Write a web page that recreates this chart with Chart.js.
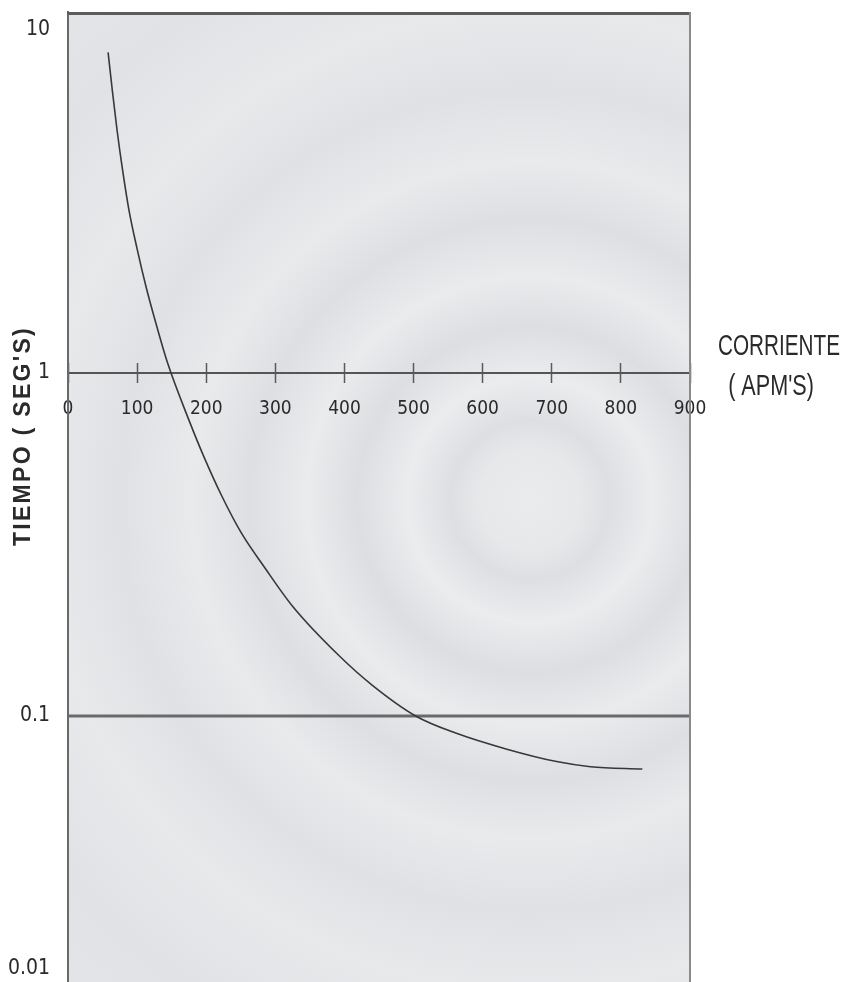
<!DOCTYPE html>
<html lang="es">
<head>
<meta charset="UTF-8">
<title>Tiempo vs corriente</title>
<script src="https://cdn.jsdelivr.net/npm/chart.js"></script>
<style>
  body { margin: 0; background: #fff; }
  .chart-box { position: relative; width: 845px; height: 982px; }
</style>
</head>
<body>
<div class="chart-box"><canvas id="curveChart"></canvas></div>
<script>
  // curva tiempo-corriente
  const currentA = [58, 64, 71, 79, 88, 100, 113, 127, 144, 176, 195, 222, 251, 285, 324, 392, 440, 503, 562, 635, 707, 756, 831];
  const timeS = [8.6, 6.7, 5.1, 3.9, 3.0, 2.3, 1.78, 1.40, 1.07, 0.72, 0.58, 0.44, 0.341, 0.27, 0.21, 0.150, 0.123, 0.100, 0.089, 0.080, 0.0736, 0.0711, 0.070];

  // linea horizontal en 0.1 s
  const refLineX = [0, 900];
  const refLineY = [0.1, 0.1];

  const xTickLabels = ['0', '100', '200', '300', '400', '500', '600', '700', '800', '900'];
  // el dibujo pone "0.01" bastante mas arriba de donde caeria en escala log
  const yTickValues = [10, 1, 0.1, 0.0184];
  const yTickLabels = ['10', '1', '0.1', '0.01'];

  const narrow = "'DejaVu Sans Condensed', 'Liberation Sans', sans-serif";

  const frame = {
    id: 'frame',
    beforeDraw(chart) {
      const { ctx, chartArea: a } = chart;
      ctx.save();
      const cx = 530, cy = 500;
      const g = ctx.createRadialGradient(cx, cy, 0, cx, cy, 720);
      g.addColorStop(0.00, '#e9ebed');
      g.addColorStop(0.07, '#e6e8ea');
      g.addColorStop(0.11, '#dddfe2');
      g.addColorStop(0.17, '#eaecee');
      g.addColorStop(0.24, '#dcdee1');
      g.addColorStop(0.31, '#e9ebed');
      g.addColorStop(0.39, '#dddfe2');
      g.addColorStop(0.47, '#e8eaec');
      g.addColorStop(0.57, '#dfe1e4');
      g.addColorStop(0.68, '#e7e9eb');
      g.addColorStop(0.82, '#e0e2e5');
      g.addColorStop(1.00, '#e4e6e8');
      ctx.fillStyle = g;
      ctx.fillRect(a.left, a.top, a.right - a.left, a.bottom - a.top);
      ctx.restore();
    },
    afterDraw(chart) {
      const { ctx, chartArea: a } = chart;
      const y1 = chart.scales.y.getPixelForValue(1);
      ctx.save();
      // marco superior y derecho
      ctx.strokeStyle = '#5c5c5c';
      ctx.lineWidth = 3;
      ctx.beginPath();
      ctx.moveTo(a.left - 1, a.top + 1.5);
      ctx.lineTo(a.right + 1, a.top + 1.5);
      ctx.stroke();
      ctx.strokeStyle = '#8a8a8a';
      ctx.lineWidth = 2;
      ctx.beginPath();
      ctx.moveTo(a.right, a.top);
      ctx.lineTo(a.right, a.bottom);
      ctx.stroke();

      // titulos (letra estrecha como en el dibujo)
      ctx.fillStyle = '#2a2a2a';
      ctx.textAlign = 'center';
      ctx.textBaseline = 'middle';
      ctx.font = "30px 'Liberation Sans', Arial, sans-serif";
      ctx.save();
      ctx.translate(a.right + 89, y1 - 26);
      ctx.scale(0.69, 1);
      ctx.fillText('CORRIENTE', 0, 0);
      ctx.restore();
      ctx.save();
      ctx.translate(a.right + 81, y1 + 14);
      ctx.scale(0.72, 1);
      ctx.fillText('( APM\'S)', 0, 0);
      ctx.restore();

      ctx.translate(24, 436);
      ctx.rotate(-Math.PI / 2);
      ctx.font = "bold 23px 'Liberation Sans', Arial, sans-serif";
      ctx.letterSpacing = '2.3px';
      ctx.fillText('TIEMPO ( SEG\'S)', 0, 0);
      ctx.restore();
    }
  };

  new Chart(document.getElementById('curveChart'), {
    type: 'line',
    data: {
      datasets: [
        {
          label: 'Tiempo',
          data: currentA.map((x, i) => ({ x: x, y: timeS[i] })),
          borderColor: '#383838',
          borderWidth: 1.6,
          pointRadius: 0,
          cubicInterpolationMode: 'monotone',
          fill: false
        },
        {
          label: '0.1 s',
          data: refLineX.map((x, i) => ({ x: x, y: refLineY[i] })),
          borderColor: '#6a6a6a',
          borderWidth: 3,
          pointRadius: 0,
          fill: false
        }
      ]
    },
    options: {
      responsive: true,
      maintainAspectRatio: false,
      animation: false,
      layout: { padding: { left: 0, right: 155, top: 12, bottom: 0 } },
      plugins: {
        legend: { display: false },
        tooltip: { enabled: false }
      },
      scales: {
        x: {
          type: 'linear',
          position: { y: 1 },
          min: 0,
          max: 900,
          border: { display: true, color: '#555', width: 2 },
          grid: { display: true, drawOnChartArea: false, drawTicks: false },
          ticks: {
            stepSize: 100,
            padding: 25,
            color: '#2a2a2a',
            font: { family: narrow, size: 19 },
            maxRotation: 0,
            autoSkip: false,
            callback: (v, i) => xTickLabels[i]
          }
        },
        xMarks: {
          type: 'linear',
          axis: 'x',
          position: { y: 1.069 },
          min: 0,
          max: 900,
          border: { display: false },
          grid: { display: true, drawOnChartArea: false, drawTicks: true, tickLength: 20, color: '#5a5a5a', tickWidth: 1.5 },
          ticks: { stepSize: 100, display: false }
        },
        y: {
          type: 'logarithmic',
          min: 0.01676,
          max: 11.28,
          border: { display: true, color: '#6a6a6a', width: 2 },
          grid: { display: false },
          afterBuildTicks: (scale) => {
            scale.ticks = yTickValues.map(v => ({ value: v }));
          },
          afterFit: (scale) => {
            scale.width = 68;
            scale.paddingTop = 0;
            scale.paddingBottom = 0;
          },
          ticks: {
            padding: 10,
            color: '#2a2a2a',
            font: { family: narrow, size: 21 },
            autoSkip: false,
            callback: (v, i) => yTickLabels[i]
          }
        }
      }
    },
    plugins: [frame]
  });
</script>
</body>
</html>
